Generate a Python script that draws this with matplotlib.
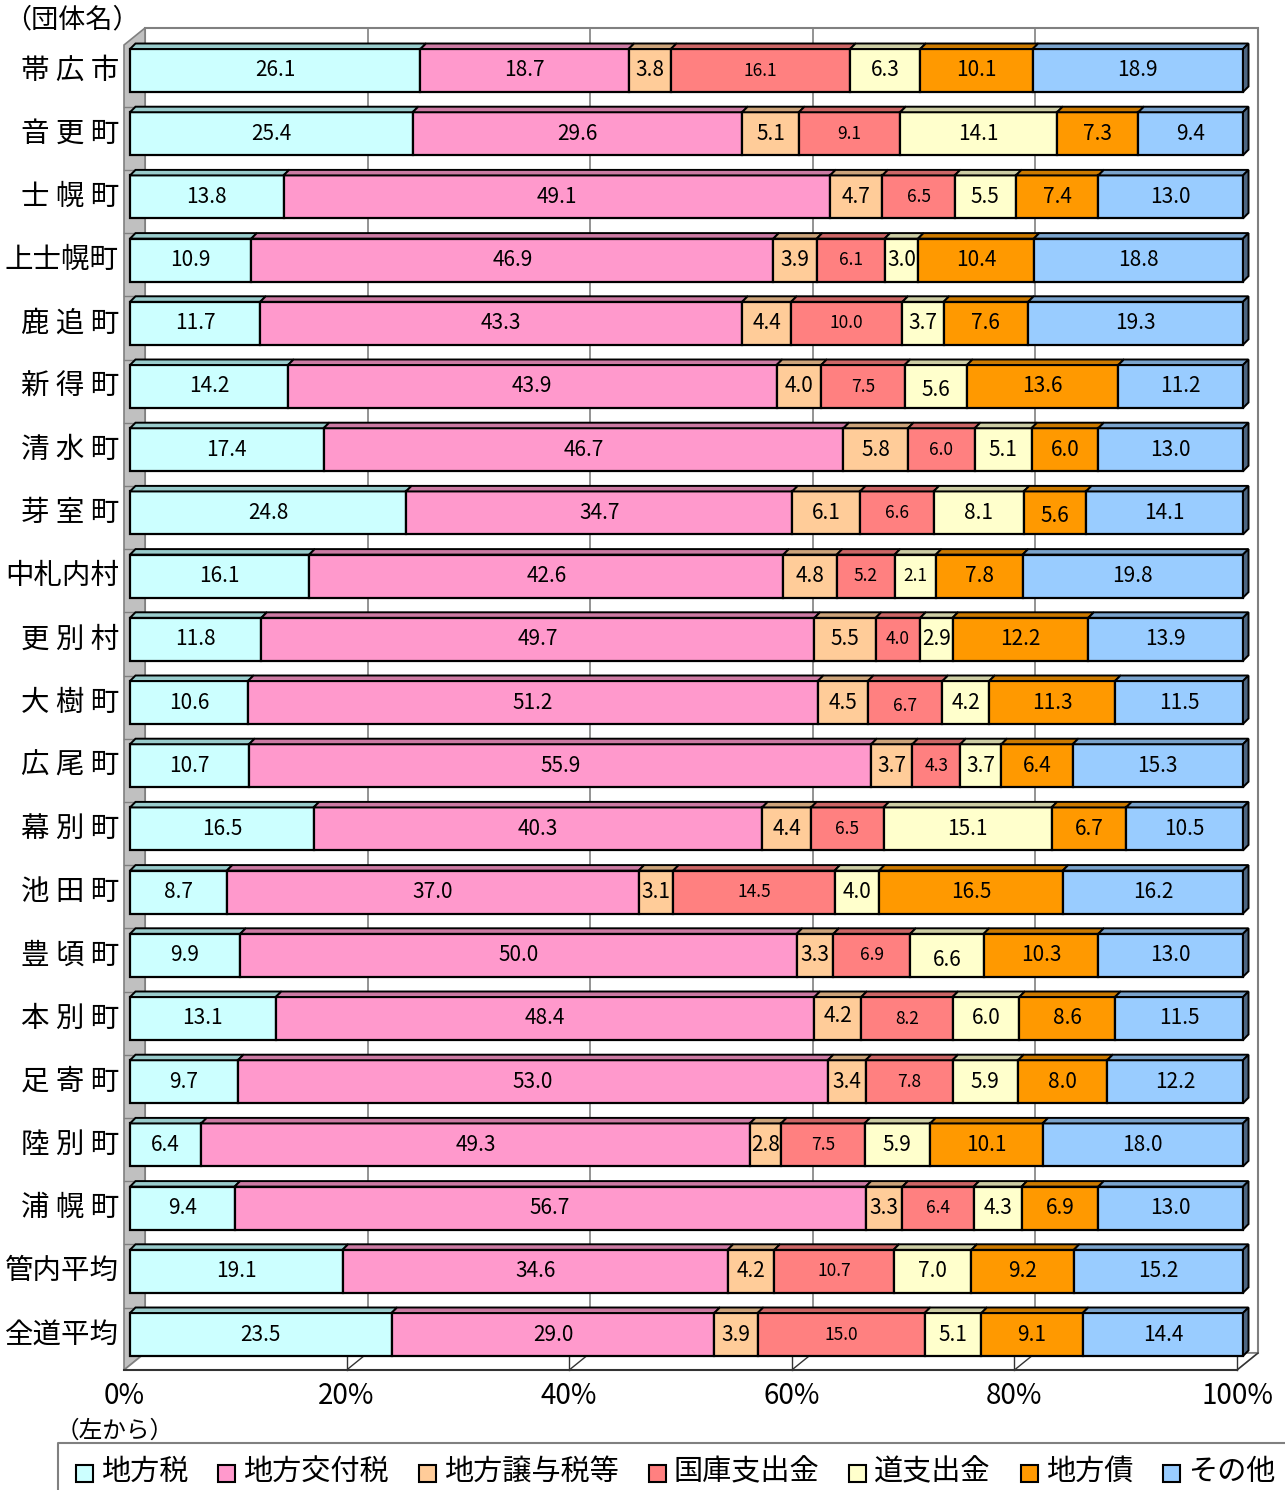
import matplotlib
matplotlib.use("Agg")
import matplotlib.pyplot as plt
from matplotlib.patches import Polygon, Rectangle
import numpy as np

plt.rcParams['font.family'] = ['Noto Sans CJK JP', 'DejaVu Sans']

# ---- data (percent of revenue) ----
municipalities = ['帯 広 市', '音 更 町', '士 幌 町', '上士幌町', '鹿 追 町', '新 得 町', '清 水 町',
                  '芽 室 町', '中札内村', '更 別 村', '大 樹 町', '広 尾 町', '幕 別 町', '池 田 町',
                  '豊 頃 町', '本 別 町', '足 寄 町', '陸 別 町', '浦 幌 町', '管内平均', '全道平均']
revenue_items = ['地方税', '地方交付税', '地方譲与税等', '国庫支出金', '道支出金', '地方債', 'その他']

local_tax = [26.1, 25.4, 13.8, 10.9, 11.7, 14.2, 17.4, 24.8, 16.1, 11.8, 10.6,
             10.7, 16.5, 8.7, 9.9, 13.1, 9.7, 6.4, 9.4, 19.1, 23.5]
allocation_tax = [18.7, 29.6, 49.1, 46.9, 43.3, 43.9, 46.7, 34.7, 42.6, 49.7, 51.2,
                  55.9, 40.3, 37.0, 50.0, 48.4, 53.0, 49.3, 56.7, 34.6, 29.0]
transfer_tax = [3.8, 5.1, 4.7, 3.9, 4.4, 4.0, 5.8, 6.1, 4.8, 5.5, 4.5,
                3.7, 4.4, 3.1, 3.3, 4.2, 3.4, 2.8, 3.3, 4.2, 3.9]
national_disb = [16.1, 9.1, 6.5, 6.1, 10.0, 7.5, 6.0, 6.6, 5.2, 4.0, 6.7,
                 4.3, 6.5, 14.5, 6.9, 8.2, 7.8, 7.5, 6.4, 10.7, 15.0]
pref_disb = [6.3, 14.1, 5.5, 3.0, 3.7, 5.6, 5.1, 8.1, 3.7, 2.9, 4.2,
             3.7, 15.1, 4.0, 6.6, 6.0, 5.9, 5.9, 4.3, 7.0, 5.1]
local_bonds = [10.1, 7.3, 7.4, 10.4, 7.6, 13.6, 6.0, 5.6, 7.8, 12.2, 11.3,
               6.4, 6.7, 16.5, 10.3, 8.6, 8.0, 10.1, 6.9, 9.2, 9.1]
other = [18.9, 9.4, 13.0, 18.8, 19.3, 11.2, 13.0, 14.1, 19.8, 13.9, 11.5,
         15.3, 10.5, 16.2, 13.0, 11.5, 12.2, 18.0, 13.0, 15.2, 14.4]

# label printed in the source differs from the drawn bar here
label_override = {(8, 4): '2.1'}
tick_values = [0, 20, 40, 60, 80, 100]

series = [local_tax, allocation_tax, transfer_tax, national_disb, pref_disb, local_bonds, other]

front_colors = ['#CCFFFF', '#FF99CC', '#FFCC99', '#FF8080', '#FFFFCC', '#FF9900', '#99CCFF']
top_colors = ['#99CCCC', '#CC7AA3', '#CCA37A', '#CC6666', '#CCCCA3', '#CC7A00', '#7AA3CC']
side_color = '#4D6682'

# ---- layout (pixels of the 1285x1490 picture) ----
W, H = 1285, 1490
PX = 11.13        # px per percent
ROW = 63.2        # px per row
X0, Y0 = 130, 70.5


def X(px):
    return (px - X0) / PX


def Y(py):
    return (py - Y0) / ROW


fig = plt.figure(figsize=(W / 100, H / 100), dpi=100)
ax = fig.add_axes([0, 0, 1, 1])
ax.set_xlim(X(0), X(W))
ax.set_ylim(Y(H), Y(0))
ax.axis('off')

bar_h = 43 / ROW
ddx, ddy = 5.5 / PX, 5.5 / ROW
wall_gray = '#808080'

# back wall + grid
back_l, back_r = X(145), X(1258)
back_top, back_bot = Y(28), Y(1353)
ax.add_patch(Rectangle((back_l, back_top), back_r - back_l, back_bot - back_top,
                       facecolor='white', edgecolor=wall_gray, lw=1.5, zorder=1))
for t in tick_values[1:-1]:
    xb = back_l + t * (back_r - back_l) / 100
    ax.plot([xb, xb], [back_top, back_bot], color=wall_gray, lw=1.2, zorder=1)

# left wall
front_l = X(124)
ax.add_patch(Polygon([(front_l, Y(45)), (back_l, back_top), (back_l, back_bot), (front_l, Y(1370))],
                     closed=True, facecolor='#C0C0C0', edgecolor=wall_gray, lw=1.2, zorder=1))
for r in range(1, len(municipalities)):
    yl = r - bar_h / 2 - ddy
    ax.plot([front_l, back_l], [yl, yl], color=wall_gray, lw=1, zorder=1)

# floor
floor_front = Y(1370)
front_r = X(1237)
ax.add_patch(Polygon([(front_l, floor_front), (back_l, back_bot), (back_r, back_bot), (front_r, floor_front)],
                     closed=True, facecolor='white', edgecolor=wall_gray, lw=1.2, zorder=1))
ax.plot([front_l, front_r], [floor_front, floor_front], color='#333333', lw=1.5, zorder=2)
for t in tick_values[1:]:
    xf = front_l + t * (front_r - front_l) / 100
    xb = back_l + t * (back_r - back_l) / 100
    ax.plot([xf, xf], [Y(1352), floor_front], color='#333333', lw=1, zorder=2)
    ax.plot([xf, xb], [floor_front, back_bot], color='#333333', lw=1, zorder=2)
    ax.text(xf, Y(1396), f'{t}%', ha='center', va='center', fontsize=20)
ax.text(front_l, Y(1396), '0%', ha='center', va='center', fontsize=20)

# ---- bars ----
rows = np.arange(len(municipalities))
lefts = np.zeros(len(municipalities))
small_label_cols = {3}
label_shift = {(14, 4): 5, (5, 4): 3, (7, 5): 3, (10, 3): 3, (15, 2): -3}

for j, vals in enumerate(series):
    vals = np.array(vals)
    bars = ax.barh(rows, vals, left=lefts, height=bar_h, color=front_colors[j],
                   edgecolor='black', linewidth=1.6, zorder=3)
    for i, (v, l, patch) in enumerate(zip(vals, lefts, bars.patches)):
        top = i - bar_h / 2
        bot = i + bar_h / 2
        ax.add_patch(Polygon([(l, top), (l + ddx, top - ddy), (l + v + ddx, top - ddy), (l + v, top)],
                             closed=True, facecolor=top_colors[j], edgecolor='black', lw=1.4, zorder=3))
        if j == len(series) - 1:
            ax.add_patch(Polygon([(l + v, top), (l + v + ddx, top - ddy), (l + v + ddx, bot - ddy), (l + v, bot)],
                                 closed=True, facecolor=side_color, edgecolor='black', lw=1.4, zorder=3))
        txt = label_override.get((i, j), f'{v:.1f}')
        fs = 12.5 if (j in small_label_cols or (i, j) in label_override) else 15
        tt = ax.text(l + v / 2, i + label_shift.get((i, j), 0) / ROW, txt, ha='center', va='center',
                     fontsize=fs, zorder=4, clip_on=True)
        tt.set_clip_path(patch)
    lefts = lefts + vals

# category labels
for i, name in enumerate(municipalities):
    ax.text(X(119), i, name, ha='right', va='center', fontsize=20.5)

ax.text(X(4), Y(20), '（団体名）', ha='left', va='center', fontsize=19.5)
ax.text(X(56), Y(1431), '（左から）', ha='left', va='center', fontsize=17)

# ---- legend box ----
ax.plot([X(58), X(58), X(W + 5)], [Y(H + 5), Y(1443), Y(1443)], color=wall_gray, lw=1.5, zorder=2)
renderer = fig.canvas.get_renderer()
xpos = 76
for name, col in zip(revenue_items, front_colors):
    ax.add_patch(Rectangle((X(xpos), Y(1465)), 17 / PX, 17 / ROW, facecolor=col,
                           edgecolor='black', lw=1.5, zorder=3))
    t = ax.text(X(xpos + 25), Y(1472), name, ha='left', va='center', fontsize=21)
    w = t.get_window_extent(renderer).width
    xpos = xpos + 25 + w + 30

fig.savefig('out.png', dpi=100)
